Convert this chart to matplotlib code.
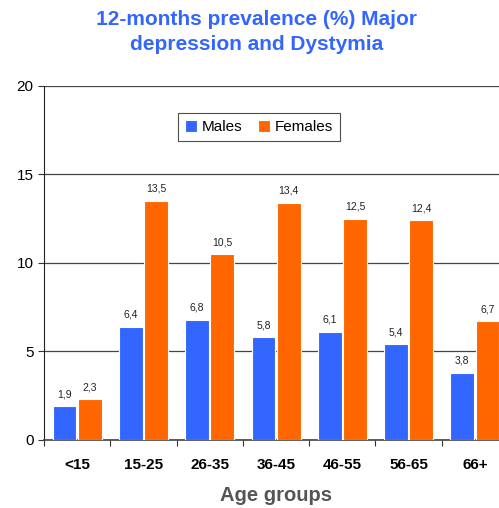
import numpy as np
import matplotlib
matplotlib.use("Agg")
import matplotlib.pyplot as plt

plt.rcParams['font.family'] = ['Liberation Sans', 'DejaVu Sans']

grupos = ["<15", "15-25", "26-35", "36-45", "46-55", "56-65", "66+"]
hombres = [1.9, 6.4, 6.8, 5.8, 6.1, 5.4, 3.8]
mujeres = [2.3, 13.5, 10.5, 13.4, 12.5, 12.4, 6.7]

azul = "#3366FF"
naranja = "#FF6600"

fig = plt.figure(figsize=(4.99, 5.08), dpi=100)
ax = fig.add_axes([0.0882, 0.1339, 0.93, 0.6969])

x = np.arange(len(grupos))
ancho = 0.36
b1 = ax.bar(x - 0.19, hombres, ancho, color=azul, edgecolor="white", linewidth=0.8, label="Males", zorder=3)
b2 = ax.bar(x + 0.19, mujeres, ancho, color=naranja, edgecolor="white", linewidth=0.8, label="Females", zorder=3)

# etiquetas de valor con coma decimal
for barras, vals in [(b1, hombres), (b2, mujeres)]:
    for b, v in zip(barras, vals):
        ax.text(b.get_x() + b.get_width() / 2, v + 0.4, f"{v:.1f}".replace(".", ","),
                ha="center", va="bottom", fontsize=7.5, color="#222222")

ax.set_xlim(-0.5, len(grupos) - 0.5)
ax.set_ylim(0, 20)
ax.set_yticks([0, 5, 10, 15, 20])
ax.tick_params(axis="y", labelsize=11, length=4, direction="out", color="#333333")
ax.yaxis.grid(True, color="#444444", linewidth=0.9, zorder=0)

ax.set_xticks(np.arange(-0.5, len(grupos), 1.0), minor=False)
ax.set_xticklabels([])
ax.set_xticks(x, minor=True)
ax.set_xticklabels(grupos, minor=True, fontsize=11, fontweight="bold")
ax.tick_params(axis="x", which="major", length=4, direction="out", color="#333333")
ax.tick_params(axis="x", which="minor", length=0, pad=13)

for s in ["top", "right"]:
    ax.spines[s].set_visible(False)
ax.spines["left"].set_color("#222222")
ax.spines["bottom"].set_color("#444444")
ax.spines["bottom"].set_linewidth(1.2)

ax.set_xlabel("Age groups", fontsize=14.5, fontweight="bold", color="#555555", labelpad=10)

fig.text(0.515, 0.937, "12-months prevalence (%) Major\ndepression and Dystymia", ha="center", va="center",
         fontsize=15, fontweight="bold", color=azul, linespacing=1.35)

leg = ax.legend(loc="upper left", bbox_to_anchor=(0.273, 0.945), ncol=2, fontsize=11,
                frameon=True, fancybox=False, edgecolor="#222222", handlelength=0.8,
                handleheight=0.8, handletextpad=0.3, columnspacing=1.0, borderpad=0.45)
leg.get_frame().set_linewidth(0.8)

fig.savefig("out.png", dpi=100)
